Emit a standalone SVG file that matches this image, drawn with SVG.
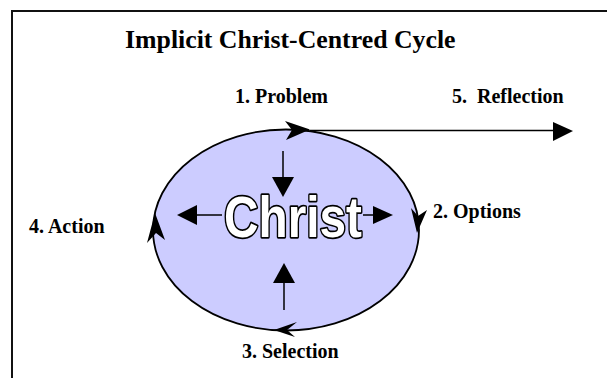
<svg xmlns="http://www.w3.org/2000/svg" width="607" height="378" viewBox="0 0 607 378">
<style>
.lbl{font-family:"Liberation Serif","Times New Roman",serif;font-weight:bold;font-size:20px;fill:#000}
.ttl{font-family:"Liberation Serif","Times New Roman",serif;font-weight:bold;font-size:25.8px;fill:#000}
.big{font-family:"Liberation Sans","DejaVu Sans Condensed",Arial,sans-serif;font-weight:900;font-size:58px;fill:#fff;stroke:#000;stroke-width:3.4;stroke-linejoin:round;paint-order:stroke fill}
.ln{stroke:#000;stroke-width:1.5;fill:none}
.ah{fill:#000;stroke:none}
</style>
<rect x="0" y="0" width="607" height="378" fill="#fff"/>
<path d="M12,378 V11 H607" fill="none" stroke="#111" stroke-width="2"/>
<text class="ttl" x="125" y="48">Implicit Christ-Centred Cycle</text>
<g id="cycle">
<ellipse cx="286" cy="230" rx="133" ry="100.5" fill="#CCCCFF" stroke="#000" stroke-width="1.8"/>
</g>
<g id="christ">
<text class="big" x="224" y="237" textLength="138" lengthAdjust="spacingAndGlyphs">Christ</text>
</g>
<g id="connectors">
<line class="ln" x1="310" y1="130.5" x2="555" y2="130.5"/>
<polygon class="ah" points="573,131 553,122 553,141"/>
<line class="ln" x1="283" y1="151" x2="283" y2="180"/>
<polygon class="ah" points="283,197 272,177 294,177"/>
<line class="ln" x1="284" y1="310" x2="284" y2="280"/>
<polygon class="ah" points="284,263 273,283 295,283"/>
<line class="ln" x1="222" y1="215" x2="195" y2="215"/>
<polygon class="ah" points="177,215 197,205 197,225"/>
<line class="ln" x1="363" y1="215" x2="375" y2="215"/>
<polygon class="ah" points="393,215 373,206 373,224"/>
<polygon class="ah" points="310,129.5 285,121 292,130 286,140"/>
<polygon class="ah" points="417,233 411,208 418,216 427,210"/>
<polygon class="ah" points="155,213 165,240 156,233 147,243"/>
<polygon class="ah" points="274,330 297,322 287,330 295,337"/>
</g>
<g id="n1"><text class="lbl" x="235" y="103">1. Problem</text></g>
<g id="n5"><text class="lbl" x="452" y="103" xml:space="preserve">5.  Reflection</text></g>
<g id="n2"><text class="lbl" x="433" y="218">2. Options</text></g>
<g id="n4"><text class="lbl" x="29" y="233">4. Action</text></g>
<g id="n3"><text class="lbl" x="242" y="358">3. Selection</text></g>
</svg>
